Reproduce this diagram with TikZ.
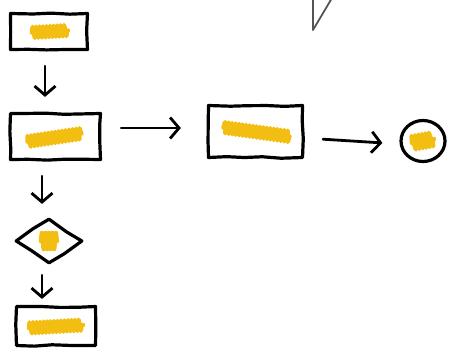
\documentclass[tikz,border=0pt]{standalone}
\usetikzlibrary{arrows.meta,shapes.geometric,decorations.pathmorphing}
\definecolor{scribyellow}{HTML}{F2BE12}
\definecolor{triangray}{HTML}{555555}
\begin{document}
\pgfmathsetseed{7}
\begin{tikzpicture}[x=1pt,y=-1pt,
  sketch/.style={draw=black, line width=3.2pt, line join=round, decorate,
    decoration={random steps, segment length=18pt, amplitude=0.9pt}},
  boxnode/.style={sketch, rectangle, inner sep=0pt},
  scrib/.style={draw=scribyellow, line width=4.5pt, line cap=round, line join=round,
    decorate, decoration={zigzag, segment length=3.5pt, amplitude=5.5pt}},
  arr/.style={draw=black, line width=2.8pt, line cap=round,
    -{Straight Barb[length=9pt, width=21pt]}}
]
\useasboundingbox (0,0) rectangle (449,350);

% nodes
\node[boxnode, minimum width=77pt, minimum height=36pt] (b1) at (49,31.5) {};
\node[boxnode, minimum width=90pt, minimum height=46pt] (b2) at (55.5,136.5) {};
\node[boxnode, minimum width=94pt, minimum height=52pt] (b3) at (255.5,131.5) {};
\node[draw=black, line width=3.2pt, ellipse, inner sep=0pt, minimum width=44pt, minimum height=41pt] (c1) at (423,141) {};
\node[sketch, diamond, aspect=1.5, inner sep=0pt, minimum width=67pt, minimum height=45pt] (d1) at (49,241) {};
\node[boxnode, minimum width=79pt, minimum height=39pt] (b5) at (56,326) {};

% yellow scribbles
\draw[scrib] ([xshift=-17pt,yshift=-1pt]b1.center) -- ([xshift=19pt,yshift=1pt]b1.center);
\draw[scrib] ([xshift=-28pt,yshift=-5pt]b2.center) -- ([xshift=26pt,yshift=3pt]b2.center);
\draw[scrib] ([xshift=-32pt,yshift=4pt]b3.center) -- ([xshift=34pt,yshift=-5pt]b3.center);
\draw[scrib, decoration={zigzag, segment length=3.5pt, amplitude=7pt}] ([xshift=-11pt,yshift=-2pt]c1.center) -- ([xshift=11pt,yshift=2pt]c1.center);
\draw[scrib, decoration={zigzag, segment length=3.5pt, amplitude=8pt}] ([xshift=-8pt]d1.center) -- ([xshift=8pt]d1.center);
\draw[scrib] ([xshift=-27pt,yshift=-2pt]b5.center) -- ([xshift=27pt,yshift=1pt]b5.center);

% connectors
\draw[arr, shorten <=15pt, shorten >=15pt] ([xshift=-4pt]b1.south) -- ([xshift=-10.5pt]b2.north);
\draw[arr, shorten <=19pt, shorten >=26pt] ([yshift=8.5pt]b2.east) -- ([yshift=3.5pt]b3.west);
\draw[arr, shorten <=19pt, shorten >=17pt] ([yshift=-6.5pt]b3.east) -- ([yshift=-3pt]c1.west);
\draw[arr, shorten <=15pt, shorten >=13pt] ([xshift=-13.5pt]b2.south) -- ([xshift=-7pt]d1.north);
\draw[arr, shorten <=10pt, shorten >=6pt] ([xshift=-7pt]d1.south) -- ([xshift=-14pt]b5.north);

% partial triangle at top
\coordinate (t0) at (313,30);
\coordinate (t1) at (313,-2);
\coordinate (t2) at (332,-2);
\draw[triangray, line width=1.8pt, line join=round] (t1) -- (t0) -- (t2);
\end{tikzpicture}
\end{document}
